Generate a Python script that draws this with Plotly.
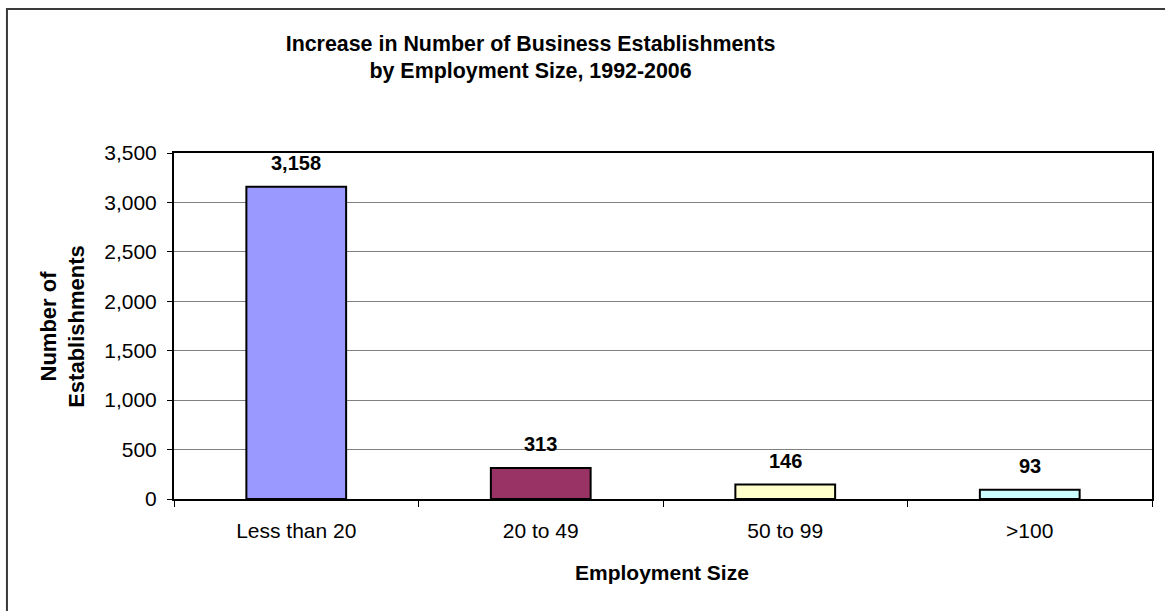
import plotly.graph_objects as go

categories = ["Less than 20", "20 to 49", "50 to 99", ">100"]
values = [3158, 313, 146, 93]
bar_colors = ["#9999FF", "#993366", "#FFFFCC", "#CCFFFF"]
y_ticks = [0, 500, 1000, 1500, 2000, 2500, 3000, 3500]

FONT = "Liberation Sans, Arial, sans-serif"

fig = go.Figure()
fig.add_trace(go.Bar(
    x=categories, y=values,
    marker=dict(color=bar_colors, line=dict(color="black", width=2)),
    hoverinfo="skip",
))

annotations = []
for c, v in zip(categories, values):
    annotations.append(dict(
        x=c, y=v, xref="x", yref="y", text=f"<b>{v:,}</b>", showarrow=False,
        yanchor="middle", yshift=24, font=dict(family=FONT, size=20, color="black"),
    ))
annotations.append(dict(
    x=-0.1137, y=0.5, xref="paper", yref="paper", text="<b>Number of<br>Establishments</b>",
    showarrow=False, textangle=-90, xanchor="center", yanchor="middle",
    font=dict(family=FONT, size=22, color="black"),
))
annotations.append(dict(
    x=0.499, y=-0.211, xref="paper", yref="paper", text="<b>Employment Size</b>",
    showarrow=False, xanchor="center", yanchor="middle",
    font=dict(family=FONT, size=21, color="black"),
))

fig.update_layout(
    width=1165, height=611,
    margin=dict(l=174, r=11, t=153, b=112),
    paper_bgcolor="white", plot_bgcolor="white",
    showlegend=False,
    bargap=0.592,
    title=dict(
        text="<b>Increase in Number of Business Establishments<br>by Employment Size, 1992-2006</b>",
        x=0.3646, xref="paper", xanchor="center",
        y=1 - 50.5 / 611, yref="container", yanchor="middle",
        font=dict(family=FONT, size=21.4, color="black"),
    ),
    font=dict(family=FONT, color="black"),
    annotations=annotations,
    shapes=[dict(
        type="rect", xref="paper", yref="paper",
        x0=-0.1708, x1=1.5, y0=-1.0, y1=1.4162,
        line=dict(color="#3a3a3a", width=2), fillcolor="rgba(0,0,0,0)", layer="below",
    )],
)
fig.update_xaxes(
    showline=True, linecolor="black", linewidth=2, mirror=True,
    ticks="outside", tickson="boundaries", ticklen=6, tickcolor="black", tickwidth=1,
    showgrid=False, tickfont=dict(family=FONT, size=21, color="black"),
    ticklabelstandoff=12,
)
fig.update_yaxes(
    range=[0, 3500], tickvals=y_ticks, tickformat=",",
    showline=True, linecolor="black", linewidth=2, mirror=True,
    ticks="outside", ticklen=5, tickcolor="black", tickwidth=1,
    showgrid=True, gridcolor="#808080", gridwidth=1,
    tickfont=dict(family=FONT, size=21, color="black"),
    ticklabelstandoff=6, zeroline=False,
)

fig.write_html(
    "out.html",
    config={"displayModeBar": False},
    post_script="document.body.style.margin='0';document.body.style.overflow='hidden';",
)
